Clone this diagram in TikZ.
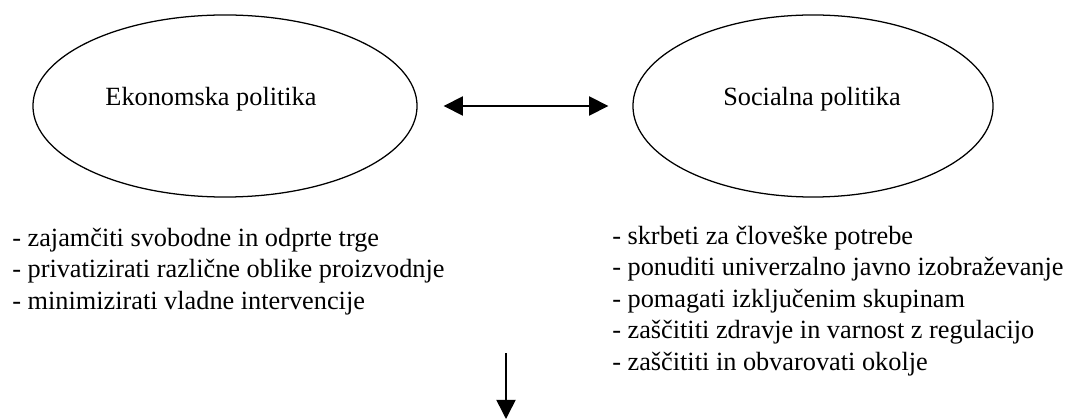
\documentclass[tikz,border=0pt]{standalone}
\usepackage{fontspec}
\setmainfont{Liberation Serif}
\usetikzlibrary{shapes.geometric,arrows.meta}
\begin{document}
\begin{tikzpicture}[x=0.025cm,y=-0.025cm,
  >={Triangle[length=0.48cm,width=0.48cm]},
  policy/.style={draw, ellipse, line width=0.9pt, minimum height=4.55cm, inner sep=0pt},
  title/.style={anchor=base, inner sep=0pt, font=\fontsize{18.7}{21.7}\selectfont},
  goals/.style={anchor=base west, align=left, inner sep=0pt, font=\fontsize{18.7}{22.3}\selectfont}]
\useasboundingbox (0,0) rectangle (1065,419);
\node[policy, minimum width=9.6cm] (econ) at (225,106) {};
\node[policy, minimum width=9.0cm] (soc) at (813,106) {};
\node[title] (econ name) at (211,106) {Ekonomska politika};
\node[title] (soc name) at (812,106) {Socialna politika};
\draw[<->, line width=1.1pt, shorten <=0.65cm, shorten >=0.6cm] (econ) -- (soc);
% base west = baseline of the last line
\node[goals] (econ goals) at (12,309) {- zajamčiti svobodne in odprte trge\\- privatizirati različne oblike proizvodnje\\- minimizirati vladne intervencije};
\node[goals] (soc goals) at (612,370) {- skrbeti za človeške potrebe\\- ponuditi univerzalno javno izobraževanje\\- pomagati izključenim skupinam\\- zaščititi zdravje in varnost z regulacijo\\- zaščititi in obvarovati okolje};
\coordinate (flow top) at (506,353);
\coordinate (flow end) at (506,419);
\draw[->, line width=1.1pt] (flow top) -- (flow end);
\end{tikzpicture}
\end{document}
